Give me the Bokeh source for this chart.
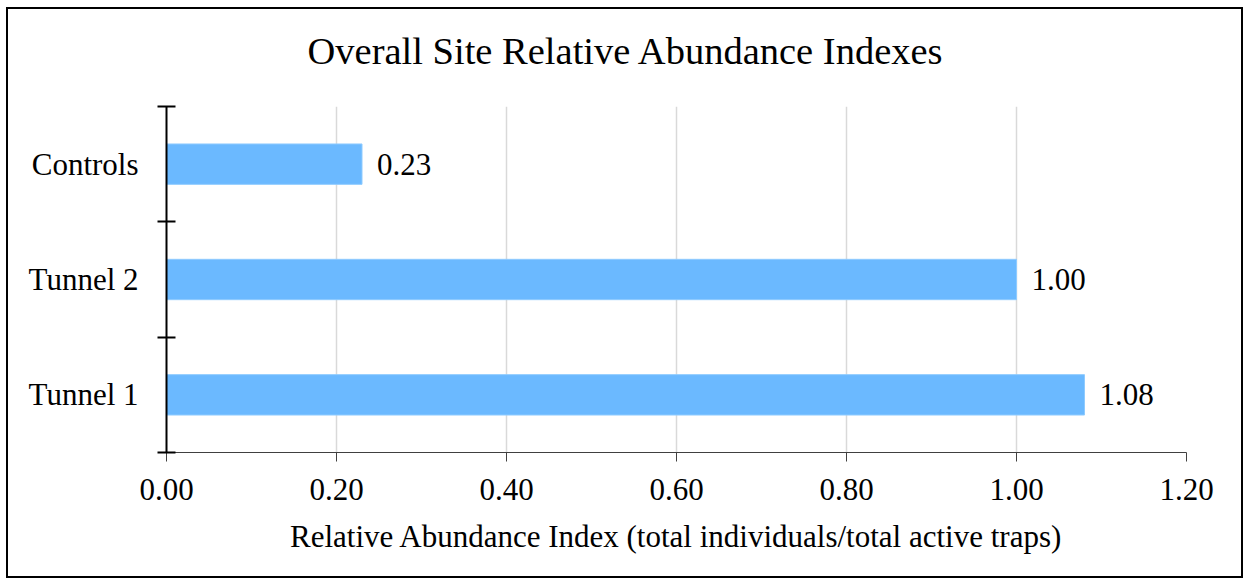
from bokeh.plotting import figure
from bokeh.models import ColumnDataSource, FixedTicker, Range1d, LabelSet, Title
from bokeh.embed import file_html
from bokeh.resources import INLINE

categories = ["Tunnel 1", "Tunnel 2", "Controls"]
values = [1.08, 1.00, 0.23]
x_ticks = [0.0, 0.2, 0.4, 0.6, 0.8, 1.0, 1.2]
x_tick_labels = ["0.00", "0.20", "0.40", "0.60", "0.80", "1.00", "1.20"]
title_text = "Overall Site Relative Abundance Indexes"

FONT = "Liberation Serif"

ypos = [i + 0.5 for i in range(len(categories))]
src = ColumnDataSource(dict(
    y=ypos, v=values, cat=categories, lbl=[f"{v:.2f}" for v in values]
))

p = figure(width=1237, height=571, output_backend="svg", toolbar_location=None,
           x_range=Range1d(0, 1.2), y_range=Range1d(0, len(categories)),
           min_border_left=158, min_border_right=59, min_border_top=96,
           min_border_bottom=128)
p.margin = (7, 0, 0, 6)
p.styles = {"border": "2px solid black"}
p.outline_line_color = None

p.hbar(y="y", right="v", left=0, height=0.35, source=src,
       fill_color="#6BB9FF", line_color="#8FCBFF", line_width=1)

labels = LabelSet(x="v", y="y", text="lbl", source=src, x_offset=15,
                  text_align="left", text_baseline="middle",
                  text_font=FONT, text_font_size="31px", text_color="black")
p.add_layout(labels)

# spacer between the title and the plot frame
p.add_layout(Title(text=" ", text_font_size="1px", standoff=14), "above")

# chart title (centred over the whole chart, not just the frame)
p.title.text = title_text
p.title.align = "left"
p.title.offset = 141
p.title.text_font = FONT
p.title.text_font_size = "38.5px"
p.title.text_font_style = "normal"
p.title.text_color = "black"
p.title.standoff = 36

# x axis
xa = p.xaxis[0]
xa.ticker = FixedTicker(ticks=x_ticks)
xa.major_label_overrides = {t: l for t, l in zip(x_ticks, x_tick_labels)}
xa.major_label_text_font = FONT
xa.major_label_text_font_size = "31px"
xa.major_label_text_color = "black"
xa.major_label_standoff = 17
xa.axis_line_color = "#404040"
xa.axis_line_width = 1
xa.major_tick_in = 0
xa.major_tick_out = 9
xa.major_tick_line_color = "#404040"
xa.minor_tick_line_color = None
xa.axis_label = "Relative Abundance Index (total individuals/total active traps)"
xa.axis_label_text_font = FONT
xa.axis_label_text_font_size = "31px"
xa.axis_label_text_font_style = "normal"
xa.axis_label_text_color = "black"
xa.axis_label_standoff = 16

# y axis: labels at centres, tick marks at category boundaries
ya = p.yaxis[0]
ya.ticker = FixedTicker(ticks=ypos, minor_ticks=list(range(len(categories) + 1)))
ya.major_label_overrides = {y: c for y, c in zip(ypos, categories)}
ya.major_label_text_font = FONT
ya.major_label_text_font_size = "31px"
ya.major_label_text_color = "black"
ya.major_label_standoff = 19
ya.major_tick_in = 0
ya.major_tick_out = 0
ya.minor_tick_in = 9
ya.minor_tick_out = 9
ya.minor_tick_line_color = "black"
ya.minor_tick_line_width = 2
ya.axis_line_color = "black"
ya.axis_line_width = 2

p.xgrid.ticker = FixedTicker(ticks=x_ticks)
p.xgrid.grid_line_color = "#d9d9d9"
p.xgrid.grid_line_width = 1.5
p.ygrid.grid_line_color = None

open("out.html", "w").write(file_html(p, INLINE))
